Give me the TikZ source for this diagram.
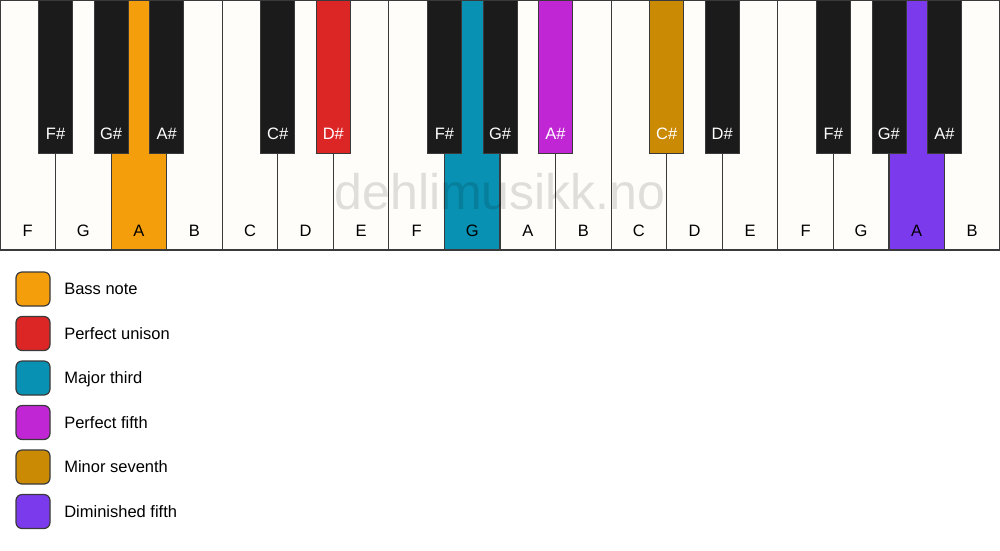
\documentclass[tikz,border=0pt]{standalone}
\usepackage{fontspec}
\setmainfont{Liberation Sans}
\usetikzlibrary{positioning}
\definecolor{keywhite}{HTML}{FFFDF9}
\definecolor{keyblack}{HTML}{1B1B1B}
\definecolor{keyedge}{HTML}{3A3A3A}
\definecolor{bassnote}{HTML}{F59E0B}
\definecolor{unison}{HTML}{DC2626}
\definecolor{third}{HTML}{0891B2}
\definecolor{fifth}{HTML}{C026D3}
\definecolor{seventh}{HTML}{CA8A04}
\definecolor{dimfifth}{HTML}{7C3AED}

\begin{document}
\begin{tikzpicture}[x=1pt,y=1pt,
  whitekey/.style={draw=keyedge,line width=1.2pt,minimum width=55.556pt,minimum height=250pt,inner sep=0pt,outer sep=0pt,anchor=north west},
  blackkey/.style={draw=keyedge,line width=0.8pt,minimum width=34pt,minimum height=153pt,inner sep=0pt,outer sep=0pt,anchor=north},
  keyname/.style={font=\fontsize{16.5}{19}\selectfont,inner sep=0pt,anchor=base},
  legendbox/.style={draw=keyedge,line width=1.2pt,rounded corners=6pt,minimum size=34pt,inner sep=0pt},
  legendtext/.style={font=\fontsize{16.5}{19}\selectfont,anchor=west,inner sep=0pt,text height=11.8pt,text depth=0pt}]
\useasboundingbox (0,0) rectangle (1000,-550);
\fill[white] (0,0) rectangle (1000,-550);
\foreach \n/\c [count=\i from 0] in {F/keywhite,G/keywhite,A/bassnote,B/keywhite,C/keywhite,D/keywhite,E/keywhite,F/keywhite,G/third,A/keywhite,B/keywhite,C/keywhite,D/keywhite,E/keywhite,F/keywhite,G/keywhite,A/dimfifth,B/keywhite}
{
  \node[whitekey,fill=\c] (w\i) at (\i*55.556,0) {};
  \node[keyname] (wn\i) at ([yshift=14pt]w\i.south) {\n};
}
\node[font=\fontsize{50}{54}\selectfont,text=black,text opacity=0.12] (mark) at (500,-192) {dehlimusikk.no};
\foreach \b/\n/\c in {1/F/keyblack,2/G/keyblack,3/A/keyblack,5/C/keyblack,6/D/unison,8/F/keyblack,9/G/keyblack,10/A/fifth,12/C/seventh,13/D/keyblack,15/F/keyblack,16/G/keyblack,17/A/keyblack}
{
  \node[blackkey,fill=\c] (b\b) at (\b*55.556,0) {};
  \node[keyname,text=white] (bn\b) at ([yshift=14pt]b\b.south) {\n\#};
}
\draw[keyedge,line width=2pt] (w0.north west) rectangle (w17.south east);
\foreach \t/\c [count=\i from 0] in {Bass note/bassnote,Perfect unison/unison,Major third/third,Perfect fifth/fifth,Minor seventh/seventh,Diminished fifth/dimfifth}
{
  \node[legendbox,fill=\c] (box\i) at (33,-289-44.5*\i) {};
  \node[legendtext,right=13.5pt of box\i] (lab\i) {\t};
}
\end{tikzpicture}
\end{document}
